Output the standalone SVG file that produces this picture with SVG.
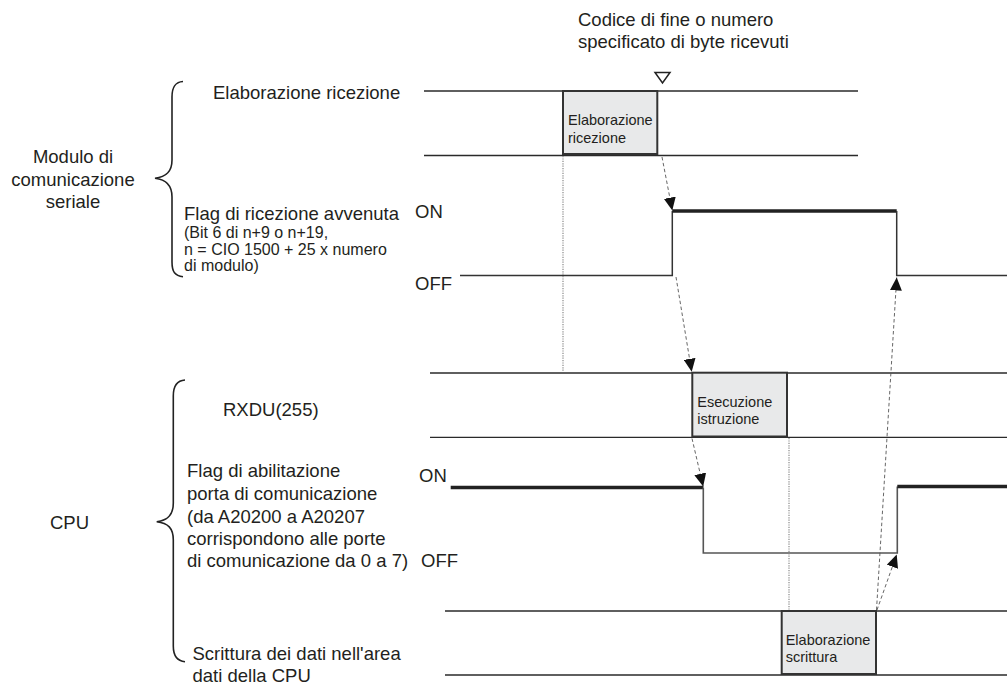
<svg xmlns="http://www.w3.org/2000/svg" width="1007" height="685" viewBox="0 0 1007 685">
  <style>
    text { font-family: "Liberation Sans", Arial, Helvetica, sans-serif; fill: #231f20; }
    .lbl { font-size: 18.5px; }
    .small { font-size: 16px; }
    .boxtxt { font-size: 14.5px; }
    .lane { stroke: #2a2a2a; stroke-width: 1.3; fill: none; }
    .box { fill: #e8e9ea; stroke: #333; stroke-width: 2; }
    .sig { stroke: #333; stroke-width: 1.5; fill: none; }
    .sig-off { stroke: #555; stroke-width: 1.6; fill: none; }
    .on { stroke: #222; stroke-width: 3.5; fill: none; }
    .brace { stroke: #222; stroke-width: 1.6; fill: none; }
    .dot { stroke: #888; stroke-width: 1.2; stroke-dasharray: 1.2 1.2; fill: none; }
    .dash { stroke: #555; stroke-width: 0.9; stroke-dasharray: 3.5 2.5; fill: none; marker-end: url(#head); }
  </style>
  <defs>
    <marker id="head" markerUnits="userSpaceOnUse" markerWidth="14" markerHeight="12" viewBox="0 0 14 12" refX="13" refY="6" orient="auto">
      <path d="M0,0 L13,6 L0,12 z" fill="#111"/>
    </marker>
  </defs>

  <!-- Title above the receive lane -->
  <g id="title">
    <text class="lbl" x="578" y="26">Codice di fine o numero</text>
    <text class="lbl" x="578" y="48">specificato di byte ricevuti</text>
    <polygon points="655,72.5 670,72.5 662.5,83" fill="none" stroke="#222" stroke-width="1.5"/>
  </g>

  <!-- Left-hand groups with braces -->
  <g id="group-module">
    <text class="lbl" x="73" y="163" text-anchor="middle">Modulo di</text>
    <text class="lbl" x="73" y="186" text-anchor="middle">comunicazione</text>
    <text class="lbl" x="73" y="208" text-anchor="middle">seriale</text>
    <path class="brace" d="M183,81.5 C175,82 172,87 172,97 L172,160 C172,172 166,177 155,178.3 C166,179.5 172,185 172,197 L172,262 C172,272 175,276 183,276.7"/>
  </g>
  <g id="group-cpu">
    <text class="lbl" x="50" y="529">CPU</text>
    <path class="brace" d="M185,380 C177,380.5 173.3,386 173.3,396 L173.3,503 C173.3,515 168,520.5 156.7,521.7 C168,523 173.3,528 173.3,540 L173.3,646 C173.3,656 177,661 185,661.7"/>
  </g>

  <!-- Signal labels -->
  <g id="label-rx-proc">
    <text class="lbl" x="213" y="99">Elaborazione ricezione</text>
  </g>
  <g id="label-rx-flag">
    <text class="lbl" x="184" y="220">Flag di ricezione avvenuta</text>
    <text class="small" x="184" y="238">(Bit 6 di n+9 o n+19,</text>
    <text class="small" x="184" y="255">n = CIO 1500 + 25 x numero</text>
    <text class="small" x="184" y="271">di modulo)</text>
    <text class="lbl" x="415" y="218">ON</text>
    <text class="lbl" x="415" y="290">OFF</text>
  </g>
  <g id="label-rxdu">
    <text class="lbl" x="223" y="416">RXDU(255)</text>
  </g>
  <g id="label-port-flag">
    <text class="lbl" x="187" y="477">Flag di abilitazione</text>
    <text class="lbl" x="187" y="499.5">porta di comunicazione</text>
    <text class="lbl" x="187" y="522.5">(da A20200 a A20207</text>
    <text class="lbl" x="187" y="545">corrispondono alle porte</text>
    <text class="lbl" x="187" y="567">di comunicazione da 0 a 7)</text>
    <text class="lbl" x="419" y="482">ON</text>
    <text class="lbl" x="421" y="567">OFF</text>
  </g>
  <g id="label-write">
    <text class="lbl" x="192.5" y="660">Scrittura dei dati nell'area</text>
    <text class="lbl" x="192.5" y="682">dati della CPU</text>
  </g>

  <!-- Lane: receive processing -->
  <g id="lane-rx">
    <line class="lane" x1="424" y1="91" x2="858" y2="91"/>
    <line class="lane" x1="424" y1="155.5" x2="858" y2="155.5"/>
    <rect class="box" x="563" y="91" width="94.3" height="63"/>
    <text class="boxtxt" x="568" y="125">Elaborazione</text>
    <text class="boxtxt" x="568" y="142.5">ricezione</text>
  </g>

  <!-- Lane: receive complete flag -->
  <g id="signal-rx-flag">
    <polyline class="sig" points="460,275.5 672.3,275.5 672.3,211"/>
    <line class="on" x1="672.3" y1="211" x2="896.7" y2="211"/>
    <polyline class="sig" points="896.7,211 896.7,275.5 1007,275.5"/>
  </g>

  <!-- Lane: RXDU(255) instruction -->
  <g id="lane-rxdu">
    <line class="lane" x1="430" y1="373" x2="1007" y2="373"/>
    <line class="lane" x1="430" y1="437.3" x2="1007" y2="437.3"/>
    <rect class="box" x="692.3" y="372.7" width="94.7" height="63.8"/>
    <text class="boxtxt" x="697.3" y="406.5">Esecuzione</text>
    <text class="boxtxt" x="697.3" y="424">istruzione</text>
  </g>

  <!-- Lane: communication port enable flag -->
  <g id="signal-port-flag">
    <line class="on" x1="450.7" y1="487.5" x2="703.3" y2="487.5"/>
    <polyline class="sig-off" points="703.3,487.5 703.3,553 897.3,553 897.3,486.5"/>
    <line class="on" x1="897.3" y1="486.5" x2="1007" y2="486.5"/>
  </g>

  <!-- Lane: writing to the CPU data area -->
  <g id="lane-write">
    <line class="lane" x1="445" y1="611" x2="1007" y2="611"/>
    <line class="lane" x1="445" y1="675" x2="1007" y2="675"/>
    <rect class="box" x="781.7" y="611" width="94.3" height="63"/>
    <text class="boxtxt" x="785.7" y="645">Elaborazione</text>
    <text class="boxtxt" x="785.7" y="661.5">scrittura</text>
  </g>

  <!-- Connectors: timing guides and cause/effect arrows -->
  <g id="connectors">
    <line class="dot" x1="563" y1="156" x2="563" y2="372"/>
    <line class="dot" x1="789" y1="438" x2="789" y2="610"/>
    <line class="dash" x1="662" y1="157" x2="672.3" y2="210.5"/>
    <line class="dash" x1="676" y1="277" x2="691.7" y2="371.7"/>
    <line class="dash" x1="692" y1="438.5" x2="703.2" y2="486.5"/>
    <line class="dash" x1="877" y1="610" x2="896.7" y2="554.5"/>
    <line class="dash" x1="876.5" y1="610" x2="896.7" y2="277.5"/>
  </g>
</svg>
